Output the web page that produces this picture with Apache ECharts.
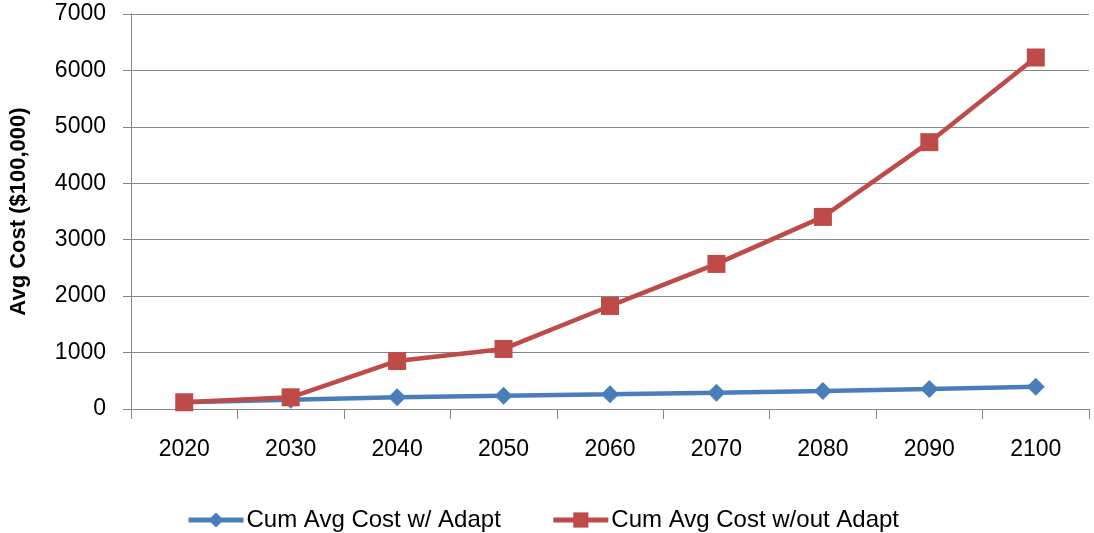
<!DOCTYPE html>
<html><head><meta charset="utf-8">
<script src="https://cdn.jsdelivr.net/npm/echarts@6/dist/echarts.min.js"></script>
<style>html,body{margin:0;padding:0;background:#fff}#c{width:1094px;height:533px}</style>
</head><body><div id="c"></div>
<script>
const categories = ['2020','2030','2040','2050','2060','2070','2080','2090','2100'];
const withAdapt = [120, 165, 207, 236, 260, 290, 319, 355, 395];
const withoutAdapt = [119, 207, 851, 1064, 1826, 2571, 3404, 4729, 6229];
const seriesNames = ['Cum Avg Cost w/ Adapt', 'Cum Avg Cost w/out Adapt'];
const yTitle = 'Avg Cost ($100,000)';

const font = 'Liberation Sans, Arial, sans-serif';
const gray = '#868686';
const chart = echarts.init(document.getElementById('c'));
chart.setOption({
  animation: false,
  backgroundColor: '#fff',
  grid: {left: 131, right: 5, top: 14, bottom: 124, containLabel: false, outerBoundsMode: 'none'},
  legend: {
    top: 508, left: 186, padding: 0, itemGap: 50, itemWidth: 55, itemHeight: 19,
    textStyle: {fontFamily: font, fontSize: 24, color: '#000', padding: [0, 0, 0, -2]},
    lineStyle: {width: 5},
    data: seriesNames
  },
  xAxis: {
    type: 'category', data: categories, boundaryGap: true,
    axisLine: {lineStyle: {color: gray, width: 1}},
    axisTick: {show: true, length: 10, interval: 0, lineStyle: {color: gray}},
    axisLabel: {fontFamily: font, fontSize: 23, color: '#000', margin: 29}
  },
  yAxis: {
    type: 'value', min: 0, max: 7000, interval: 1000,
    name: yTitle, nameLocation: 'middle', nameGap: 101, nameRotate: 90,
    nameTextStyle: {fontFamily: font, fontSize: 22, fontWeight: 'bold', color: '#000'},
    axisLine: {show: true, lineStyle: {color: gray, width: 1}},
    axisTick: {show: true, length: 8, lineStyle: {color: gray}},
    axisLabel: {fontFamily: font, fontSize: 23, color: '#000', margin: 25, formatter: v => String(v)},
    splitLine: {lineStyle: {color: gray, width: 1}}
  },
  series: [
    {name: seriesNames[0], type: 'line', data: withAdapt, symbol: 'diamond', symbolSize: 18,
     lineStyle: {color: '#4A7EBB', width: 4.5}, itemStyle: {color: '#4A7EBB'}},
    {name: seriesNames[1], type: 'line', data: withoutAdapt, symbol: 'rect', symbolSize: 18,
     lineStyle: {color: '#BE4B48', width: 4.5}, itemStyle: {color: '#BE4B48'}}
  ]
});
</script></body></html>
